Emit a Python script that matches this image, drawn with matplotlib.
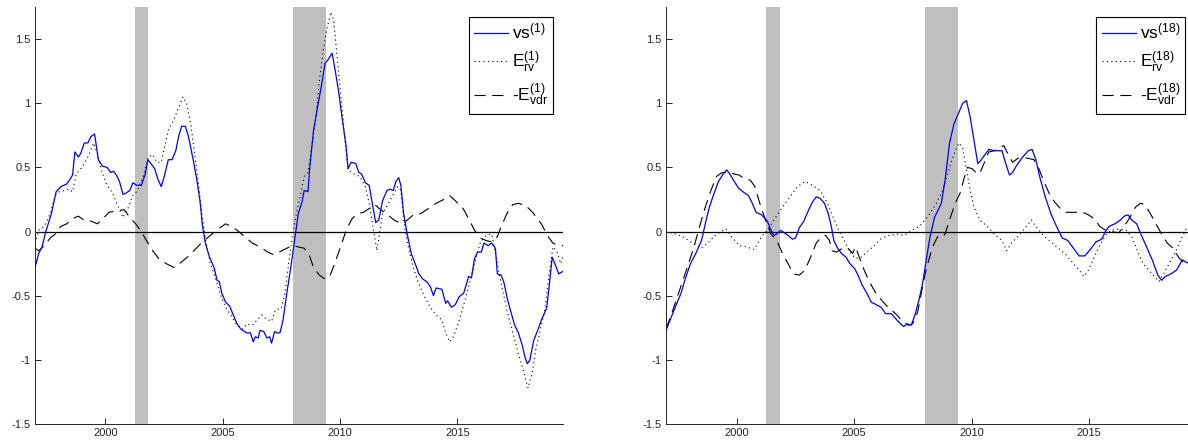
import numpy as np
import matplotlib.pyplot as plt

plt.rcParams['font.family'] = ['Liberation Sans', 'DejaVu Sans']
plt.rcParams['mathtext.fontset'] = 'custom'
plt.rcParams['mathtext.rm'] = 'Liberation Sans'
plt.rcParams['mathtext.default'] = 'regular'

# recession periods (shaded)
rec_start = [2001.25, 2008.0]
rec_end = [2001.83, 2009.42]

# ---- left panel: horizon 1 ----
vs1_t = [1997.0, 1997.16, 1997.3, 1997.46, 1997.7, 1997.9, 1998.1, 1998.35, 1998.5, 1998.6,
         1998.7, 1998.85, 1998.95, 1999.1, 1999.25, 1999.38, 1999.54, 1999.62, 1999.7, 1999.87,
         2000.07, 2000.23, 2000.34, 2000.47, 2000.6, 2000.75, 2000.88, 2001.04, 2001.17, 2001.34,
         2001.53, 2001.7, 2001.81, 2001.94, 2002.1, 2002.23, 2002.38, 2002.51, 2002.68, 2002.84,
         2003.0, 2003.13, 2003.25, 2003.41, 2003.54, 2003.74, 2003.9, 2004.03, 2004.14, 2004.26,
         2004.44, 2004.63, 2004.76, 2004.85, 2004.96, 2005.12, 2005.29, 2005.45, 2005.61, 2005.77,
         2006.02, 2006.18, 2006.3, 2006.39, 2006.51, 2006.59, 2006.75, 2006.88, 2007.0, 2007.08,
         2007.21, 2007.32, 2007.44, 2007.57, 2007.73, 2007.9, 2008.06, 2008.22, 2008.38, 2008.47,
         2008.63, 2008.71, 2008.87, 2009.04, 2009.2, 2009.36, 2009.49, 2009.66, 2009.77, 2009.93,
         2010.1, 2010.26, 2010.34, 2010.47, 2010.67, 2010.8, 2010.91, 2011.08, 2011.24, 2011.4,
         2011.52, 2011.65, 2011.81, 2012.0, 2012.14, 2012.27, 2012.38, 2012.5, 2012.59, 2012.71,
         2012.84, 2013.03, 2013.2, 2013.36, 2013.52, 2013.69, 2013.85, 2013.98, 2014.09, 2014.34,
         2014.5, 2014.58, 2014.75, 2014.91, 2015.07, 2015.27, 2015.48, 2015.6, 2015.73, 2015.86,
         2016.02, 2016.13, 2016.3, 2016.46, 2016.62, 2016.7, 2016.87, 2017.0, 2017.11, 2017.24,
         2017.44, 2017.6, 2017.77, 2017.88, 2017.98, 2018.09, 2018.25, 2018.42, 2018.58, 2018.7,
         2018.8, 2018.91, 2019.04, 2019.15, 2019.32, 2019.5]
vs1 = [-0.28, -0.17, -0.12, 0.0, 0.14, 0.31, 0.35, 0.37, 0.41, 0.44,
       0.62, 0.58, 0.61, 0.69, 0.69, 0.74, 0.76, 0.66, 0.56, 0.51,
       0.50, 0.46, 0.47, 0.44, 0.39, 0.29, 0.30, 0.32, 0.38, 0.36,
       0.36, 0.45, 0.56, 0.53, 0.49, 0.41, 0.35, 0.43, 0.56, 0.56,
       0.63, 0.75, 0.82, 0.82, 0.74, 0.56, 0.40, 0.24, 0.04, -0.09,
       -0.20, -0.28, -0.38, -0.39, -0.48, -0.55, -0.58, -0.65, -0.72, -0.76,
       -0.79, -0.79, -0.86, -0.82, -0.83, -0.77, -0.78, -0.83, -0.82, -0.87,
       -0.78, -0.79, -0.79, -0.69, -0.48, -0.28, -0.07, 0.14, 0.23, 0.32,
       0.31, 0.50, 0.79, 0.97, 1.13, 1.31, 1.34, 1.39, 1.28, 1.10,
       0.87, 0.66, 0.49, 0.54, 0.53, 0.46, 0.45, 0.38, 0.36, 0.19,
       0.07, 0.09, 0.24, 0.32, 0.33, 0.32, 0.39, 0.42, 0.36, 0.14,
       0.0, -0.17, -0.25, -0.33, -0.37, -0.39, -0.43, -0.50, -0.44, -0.45,
       -0.56, -0.54, -0.59, -0.57, -0.51, -0.48, -0.35, -0.36, -0.21, -0.16,
       -0.16, -0.09, -0.11, -0.09, -0.13, -0.33, -0.34, -0.41, -0.51, -0.60,
       -0.73, -0.79, -0.89, -0.98, -1.03, -1.00, -0.85, -0.77, -0.69, -0.64,
       -0.60, -0.43, -0.20, -0.25, -0.33, -0.31]

erv1_t = [1997.0, 1997.16, 1997.4, 1997.65, 1997.86, 1998.03, 1998.27, 1998.43, 1998.6, 1998.76,
          1999.0, 1999.25, 1999.5, 1999.66, 1999.82, 2000.07, 2000.31, 2000.55, 2000.75, 2000.96,
          2001.17, 2001.37, 2001.61, 2001.83, 2002.02, 2002.19, 2002.38, 2002.68, 2002.92, 2003.08,
          2003.3, 2003.46, 2003.65, 2003.82, 2003.98, 2004.11, 2004.27, 2004.47, 2004.67, 2004.88,
          2005.12, 2005.37, 2005.61, 2005.86, 2006.02, 2006.26, 2006.46, 2006.67, 2006.84, 2007.08,
          2007.24, 2007.49, 2007.65, 2007.81, 2007.98, 2008.14, 2008.3, 2008.47, 2008.63, 2008.79,
          2008.96, 2009.12, 2009.28, 2009.45, 2009.61, 2009.72, 2009.85, 2010.02, 2010.18, 2010.34,
          2010.59, 2010.83, 2011.08, 2011.24, 2011.4, 2011.57, 2011.68, 2011.81, 2012.06, 2012.3,
          2012.46, 2012.59, 2012.71, 2012.87, 2013.12, 2013.36, 2013.61, 2013.85, 2014.09, 2014.34,
          2014.5, 2014.67, 2014.83, 2014.99, 2015.24, 2015.48, 2015.73, 2015.97, 2016.22, 2016.46,
          2016.62, 2016.87, 2017.11, 2017.36, 2017.6, 2017.85, 2018.01, 2018.18, 2018.34, 2018.53,
          2018.74, 2018.91, 2019.07, 2019.23, 2019.4, 2019.5]
erv1 = [-0.09, 0.01, 0.04, 0.14, 0.28, 0.31, 0.32, 0.33, 0.31, 0.45,
        0.50, 0.58, 0.69, 0.61, 0.48, 0.36, 0.30, 0.19, 0.11, 0.18,
        0.28, 0.32, 0.43, 0.58, 0.60, 0.54, 0.54, 0.79, 0.87, 0.95,
        1.05, 1.00, 0.82, 0.58, 0.35, 0.14, -0.07, -0.25, -0.35, -0.48,
        -0.59, -0.66, -0.73, -0.76, -0.72, -0.73, -0.69, -0.65, -0.68, -0.70,
        -0.61, -0.60, -0.48, -0.25, -0.02, 0.14, 0.27, 0.43, 0.46, 0.66,
        0.87, 1.18, 1.41, 1.59, 1.71, 1.65, 1.41, 1.08, 0.76, 0.48,
        0.45, 0.43, 0.35, 0.22, 0.04, -0.15, -0.02, 0.14, 0.22, 0.30,
        0.35, 0.32, 0.09, -0.09, -0.28, -0.41, -0.51, -0.59, -0.65, -0.69,
        -0.79, -0.86, -0.82, -0.74, -0.59, -0.43, -0.25, -0.09, -0.03, -0.02,
        -0.17, -0.41, -0.61, -0.79, -0.95, -1.11, -1.22, -1.11, -0.92, -0.77,
        -0.59, -0.33, -0.12, -0.15, -0.25, -0.19]

evdr1_t = [1997.0, 1997.16, 1997.4, 1997.65, 1997.86, 1998.1, 1998.35, 1998.6, 1998.84, 1999.09,
           1999.41, 1999.66, 1999.9, 2000.15, 2000.47, 2000.8, 2001.04, 2001.29, 2001.53, 2001.78,
           2002.02, 2002.27, 2002.59, 2002.92, 2003.16, 2003.49, 2003.82, 2004.14, 2004.47, 2004.8,
           2005.12, 2005.37, 2005.61, 2005.94, 2006.26, 2006.59, 2006.92, 2007.16, 2007.41, 2007.73,
           2007.98, 2008.22, 2008.47, 2008.68, 2008.87, 2009.12, 2009.36, 2009.56, 2009.77, 2010.02,
           2010.26, 2010.51, 2010.75, 2011.0, 2011.24, 2011.48, 2011.73, 2011.97, 2012.3, 2012.63,
           2012.87, 2013.12, 2013.44, 2013.77, 2014.09, 2014.42, 2014.67, 2014.91, 2015.24, 2015.48,
           2015.73, 2015.97, 2016.22, 2016.46, 2016.7, 2016.87, 2017.11, 2017.36, 2017.6, 2017.93,
           2018.25, 2018.58, 2018.83, 2019.07, 2019.32, 2019.5]
evdr1 = [-0.13, -0.15, -0.11, -0.05, -0.02, 0.04, 0.06, 0.10, 0.12, 0.09,
         0.08, 0.06, 0.10, 0.15, 0.16, 0.17, 0.11, 0.06, 0.0, -0.08,
         -0.15, -0.21, -0.25, -0.28, -0.25, -0.20, -0.14, -0.08, -0.03, 0.02,
         0.06, 0.04, 0.01, -0.04, -0.09, -0.12, -0.16, -0.18, -0.16, -0.13,
         -0.11, -0.12, -0.13, -0.18, -0.28, -0.34, -0.37, -0.35, -0.25, -0.12,
         0.01, 0.10, 0.14, 0.15, 0.18, 0.21, 0.17, 0.14, 0.09, 0.06,
         0.09, 0.13, 0.14, 0.18, 0.22, 0.25, 0.28, 0.24, 0.18, 0.10,
         0.01, -0.05, -0.07, -0.08, -0.04, 0.04, 0.14, 0.21, 0.22, 0.20,
         0.14, 0.06, -0.03, -0.09, -0.11, -0.11]

# ---- right panel: horizon 18 ----
vs18_t = [1997.0, 1997.24, 1997.48, 1997.64, 1997.8, 1998.04, 1998.27, 1998.51, 1998.67, 1998.83,
          1998.99, 1999.23, 1999.44, 1999.58, 1999.71, 1999.87, 2000.08, 2000.27, 2000.51, 2000.67,
          2000.83, 2001.07, 2001.31, 2001.47, 2001.6, 2001.71, 2001.87, 2002.03, 2002.19, 2002.38,
          2002.51, 2002.67, 2002.86, 2003.07, 2003.23, 2003.39, 2003.55, 2003.74, 2003.9, 2004.03,
          2004.14, 2004.3, 2004.46, 2004.66, 2004.82, 2005.03, 2005.19, 2005.35, 2005.54, 2005.73,
          2005.94, 2006.15, 2006.34, 2006.58, 2006.82, 2006.98, 2007.11, 2007.27, 2007.43, 2007.59,
          2007.75, 2007.91, 2008.07, 2008.23, 2008.42, 2008.58, 2008.71, 2008.87, 2009.06, 2009.25,
          2009.46, 2009.62, 2009.78, 2009.94, 2010.1, 2010.26, 2010.37, 2010.53, 2010.73, 2010.97,
          2011.29, 2011.45, 2011.61, 2011.74, 2011.93, 2012.17, 2012.41, 2012.57, 2012.73, 2012.89,
          2013.13, 2013.37, 2013.61, 2013.85, 2014.09, 2014.33, 2014.57, 2014.81, 2015.05, 2015.29,
          2015.53, 2015.69, 2015.85, 2016.09, 2016.33, 2016.49, 2016.65, 2016.81, 2017.02, 2017.2,
          2017.44, 2017.68, 2017.92, 2018.08, 2018.24, 2018.48, 2018.72, 2018.96, 2019.12, 2019.5]
vs18 = [-0.77, -0.66, -0.55, -0.48, -0.38, -0.25, -0.17, -0.07, 0.06, 0.18,
        0.27, 0.39, 0.45, 0.48, 0.45, 0.40, 0.34, 0.31, 0.28, 0.22,
        0.15, 0.13, 0.08, 0.01, -0.03, -0.02, 0.01, -0.01, -0.03, -0.06,
        -0.05, 0.03, 0.08, 0.17, 0.23, 0.27, 0.26, 0.22, 0.14, 0.04,
        -0.07, -0.13, -0.17, -0.20, -0.25, -0.29, -0.35, -0.42, -0.48, -0.55,
        -0.57, -0.59, -0.64, -0.64, -0.69, -0.72, -0.74, -0.72, -0.73, -0.65,
        -0.54, -0.41, -0.22, -0.04, 0.11, 0.17, 0.22, 0.40, 0.69, 0.84,
        0.93, 1.00, 1.02, 0.89, 0.71, 0.53, 0.55, 0.59, 0.64, 0.63,
        0.63, 0.53, 0.44, 0.46, 0.52, 0.58, 0.63, 0.64, 0.56, 0.43,
        0.27, 0.14, 0.04, -0.05, -0.07, -0.13, -0.19, -0.19, -0.14, -0.08,
        -0.06, 0.0, 0.04, 0.06, 0.09, 0.12, 0.13, 0.09, 0.06, -0.02,
        -0.12, -0.22, -0.34, -0.38, -0.35, -0.33, -0.30, -0.22, -0.24, -0.26]

erv18_t = [1997.0, 1997.4, 1997.72, 1998.12, 1998.51, 1998.83, 1999.15, 1999.55, 1999.79, 2000.11,
           2000.43, 2000.75, 2001.07, 2001.31, 2001.63, 2001.95, 2002.27, 2002.59, 2002.91, 2003.23,
           2003.55, 2003.87, 2004.11, 2004.35, 2004.58, 2004.82, 2005.06, 2005.3, 2005.54, 2005.86,
           2006.18, 2006.5, 2006.82, 2007.14, 2007.46, 2007.78, 2008.02, 2008.26, 2008.5, 2008.74,
           2008.98, 2009.22, 2009.46, 2009.62, 2009.78, 2009.94, 2010.1, 2010.34, 2010.66, 2010.97,
           2011.29, 2011.49, 2011.69, 2012.01, 2012.33, 2012.54, 2012.73, 2013.05, 2013.37, 2013.69,
           2014.01, 2014.33, 2014.57, 2014.78, 2014.97, 2015.21, 2015.45, 2015.69, 2015.93, 2016.25,
           2016.57, 2016.81, 2017.05, 2017.29, 2017.53, 2017.77, 2017.97, 2018.16, 2018.4, 2018.64,
           2018.88, 2019.12, 2019.5]
erv18 = [0.0, -0.02, -0.04, -0.09, -0.13, -0.08, -0.02, 0.02, -0.04, -0.11,
         -0.12, -0.14, -0.04, 0.01, 0.10, 0.19, 0.27, 0.35, 0.39, 0.36,
         0.32, 0.22, 0.11, 0.01, -0.07, -0.16, -0.21, -0.20, -0.16, -0.11,
         -0.05, -0.03, -0.02, -0.03, 0.01, 0.04, 0.09, 0.15, 0.22, 0.31,
         0.45, 0.59, 0.69, 0.65, 0.48, 0.32, 0.19, 0.09, 0.04, -0.02,
         -0.07, -0.15, -0.09, -0.03, 0.04, 0.09, 0.04, -0.03, -0.08, -0.13,
         -0.18, -0.25, -0.30, -0.35, -0.30, -0.20, -0.11, -0.03, 0.01, 0.02,
         0.01, -0.04, -0.15, -0.25, -0.30, -0.35, -0.39, -0.33, -0.25, -0.17,
         -0.07, 0.02, 0.05]

evdr18_t = [1997.0, 1997.24, 1997.48, 1997.72, 1997.96, 1998.19, 1998.43, 1998.67, 1998.91, 1999.15,
            1999.39, 1999.63, 1999.87, 2000.11, 2000.35, 2000.59, 2000.78, 2000.99, 2001.23, 2001.47,
            2001.71, 2001.95, 2002.19, 2002.43, 2002.67, 2002.91, 2003.15, 2003.39, 2003.63, 2003.79,
            2003.95, 2004.07, 2004.26, 2004.5, 2004.74, 2004.94, 2005.06, 2005.16, 2005.38, 2005.62,
            2005.86, 2006.1, 2006.34, 2006.58, 2006.82, 2007.06, 2007.3, 2007.49, 2007.7, 2007.86,
            2008.02, 2008.18, 2008.34, 2008.55, 2008.71, 2008.87, 2009.06, 2009.3, 2009.51, 2009.67,
            2009.82, 2010.02, 2010.18, 2010.34, 2010.5, 2010.73, 2010.97, 2011.18, 2011.37, 2011.53,
            2011.74, 2011.96, 2012.17, 2012.41, 2012.65, 2012.86, 2013.05, 2013.29, 2013.53, 2013.77,
            2014.01, 2014.25, 2014.49, 2014.73, 2014.97, 2015.21, 2015.45, 2015.69, 2015.93, 2016.25,
            2016.49, 2016.73, 2016.97, 2017.18, 2017.37, 2017.6, 2017.84, 2018.08, 2018.32, 2018.56,
            2018.8, 2019.04, 2019.5]
evdr18 = [-0.76, -0.64, -0.51, -0.38, -0.25, -0.12, 0.04, 0.19, 0.32, 0.43,
          0.46, 0.46, 0.45, 0.44, 0.41, 0.40, 0.35, 0.22, 0.09, -0.02,
          -0.07, -0.17, -0.25, -0.33, -0.34, -0.30, -0.20, -0.09, -0.04, -0.03,
          -0.07, -0.15, -0.16, -0.13, -0.13, -0.17, -0.12, -0.17, -0.28, -0.38,
          -0.46, -0.52, -0.57, -0.61, -0.65, -0.70, -0.73, -0.72, -0.63, -0.48,
          -0.33, -0.22, -0.12, -0.04, -0.05, -0.02, 0.09, 0.22, 0.30, 0.41,
          0.50, 0.49, 0.46, 0.45, 0.52, 0.62, 0.63, 0.65, 0.67, 0.61,
          0.54, 0.57, 0.58, 0.57, 0.56, 0.49, 0.40, 0.30, 0.23, 0.18,
          0.15, 0.15, 0.15, 0.15, 0.13, 0.10, 0.04, 0.01, 0.0, -0.01,
          0.04, 0.11, 0.19, 0.22, 0.21, 0.14, 0.06, -0.02, -0.09, -0.13,
          -0.20, -0.25, -0.30]

panels = [
    (vs1_t, vs1, erv1_t, erv1, evdr1_t, evdr1, '1'),
    (vs18_t, vs18, erv18_t, erv18, evdr18_t, evdr18, '18'),
]

fig = plt.figure(figsize=(11.88, 4.42), dpi=100)
# right panel runs slightly past the figure edge, like the original
positions = [[35 / 1188, 18 / 442, 528 / 1188, 417 / 442],
             [666 / 1188, 18 / 442, 529 / 1188, 417 / 442]]

axcol = '#262626'
for pos, (t_vs, y_vs, t_rv, y_rv, t_vdr, y_vdr, h) in zip(positions, panels):
    ax = fig.add_axes(pos)
    for a, b in zip(rec_start, rec_end):
        ax.axvspan(a, b, color='#bfbfbf', lw=0, zorder=0)
    ax.axhline(0, color='black', lw=0.9, zorder=1)
    ax.plot(t_vs, y_vs, color='#0000ff', lw=0.9, label='vs$^{(' + h + ')}$', zorder=3)
    ax.plot(t_rv, y_rv, color='black', lw=0.8, linestyle=(0, (1, 3)),
            label='E$_{rv}^{(' + h + ')}$', zorder=2)
    ax.plot(t_vdr, y_vdr, color='black', lw=0.8, linestyle=(0, (10, 6)),
            label='-E$_{vdr}^{(' + h + ')}$', zorder=2)

    ax.set_xlim(1997, 2019.5)
    ax.set_ylim(-1.5, 1.75)
    ax.set_xticks([2000, 2005, 2010, 2015])
    ax.set_yticks([-1.5, -1, -0.5, 0, 0.5, 1, 1.5])
    ax.set_yticklabels(['-1.5', '-1', '-0.5', '0', '0.5', '1', '1.5'])
    ax.spines['top'].set_visible(False)
    ax.spines['right'].set_visible(False)
    for s in ['left', 'bottom']:
        ax.spines[s].set_color(axcol)
        ax.spines[s].set_linewidth(0.7)
    ax.tick_params(direction='in', length=4, width=0.7, colors=axcol,
                   labelsize=8, pad=3)

    leg = ax.legend(loc='upper right', fontsize=12.5, handlelength=2.0,
                    handletextpad=0.2, labelspacing=0.45, borderaxespad=0.55,
                    fancybox=False, framealpha=1, borderpad=0.3)
    leg.get_frame().set_edgecolor('black')
    leg.get_frame().set_linewidth(0.8)

plt.savefig('out.png', dpi=100)
